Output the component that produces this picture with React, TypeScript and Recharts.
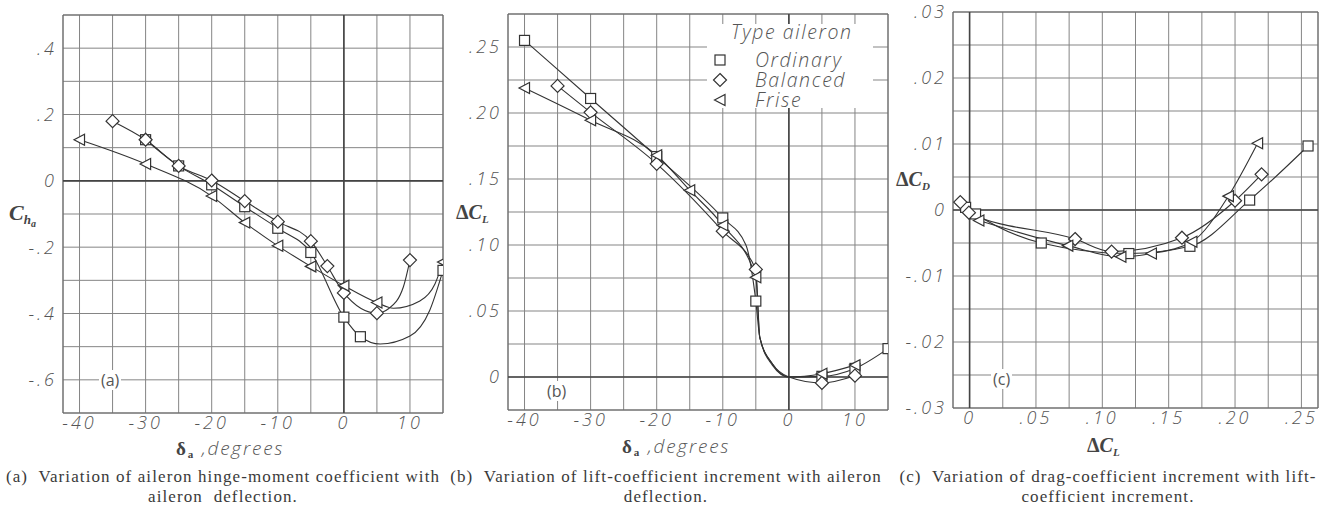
import React from "react";
import {
  LineChart,
  Line,
  XAxis,
  YAxis,
  CartesianGrid,
  ReferenceLine,
  ReferenceArea,
} from "recharts";

// (a) hinge-moment coefficient vs aileron deflection (marked test points)
const aOrdinaryDef = [-30, -25, -20, -15, -10, -5, 0, 2.5, 15];
const aOrdinaryCh = [0.124, 0.045, -0.012, -0.078, -0.143, -0.216, -0.411, -0.47, -0.27];
const aBalancedDef = [-35, -30, -25, -20, -15, -10, -5, -2.5, 0, 5, 10];
const aBalancedCh = [0.18, 0.124, 0.045, 0.001, -0.061, -0.123, -0.182, -0.257, -0.338, -0.399, -0.239];
const aFriseDef = [-40, -30, -20, -15, -10, -5, 0, 5, 15];
const aFriseCh = [0.124, 0.051, -0.046, -0.126, -0.196, -0.258, -0.316, -0.367, -0.245];
// points read off the faired curves between markers (no symbol drawn)
const aOrdinaryFairDef = [5.5, 10, 13];
const aOrdinaryFairCh = [-0.492, -0.468, -0.39];
const aBalancedFairDef = [6.8, 9];
const aBalancedFairCh = [-0.385, -0.32];
const aFriseFairDef = [7.5, 11.5, 13.8];
const aFriseFairCh = [-0.384, -0.362, -0.31];

// (b) lift-coefficient increment vs aileron deflection
const bOrdinaryDef = [-40, -30, -20, -10, -5, 5, 10, 15];
const bOrdinaryCl = [0.255, 0.211, 0.167, 0.1205, 0.0575, 0.0005, 0.0065, 0.0215];
const bBalancedDef = [-35, -30, -20, -10, -5, 5, 10];
const bBalancedCl = [0.2205, 0.2005, 0.1615, 0.1105, 0.0815, -0.0045, 0.001];
const bFriseDef = [-40, -30, -20, -15, -10, -5, 5, 10];
const bFriseCl = [0.219, 0.1945, 0.168, 0.1415, 0.115, 0.0755, 0.0025, 0.009];
const bOrdinaryFairDef = [-6.5, -4.4, -2.5, 0];
const bOrdinaryFairCl = [0.1, 0.03, 0.009, 0];
const bBalancedFairDef = [-4.4, -2.5, 0];
const bBalancedFairCl = [0.03, 0.01, 0];
const bFriseFairDef = [-4.4, -2.5, 0];
const bFriseFairCl = [0.03, 0.01, 0];

// (c) drag-coefficient increment vs lift-coefficient increment
const cOrdinaryCl = [-0.003, 0.0045, 0.054, 0.12, 0.166, 0.211, 0.255];
const cOrdinaryCd = [0.0004, -0.0006, -0.005, -0.0066, -0.0055, 0.0015, 0.0097];
const cBalancedCl = [-0.007, -0.0005, 0.0795, 0.107, 0.16, 0.2, 0.22];
const cBalancedCd = [0.0012, -0.0004, -0.0044, -0.0063, -0.0042, 0.0014, 0.0054];
const cFriseCl = [0.007, 0.074, 0.114, 0.137, 0.1675, 0.195, 0.217];
const cFriseCd = [-0.0016, -0.0054, -0.0071, -0.0066, -0.0048, 0.0021, 0.0101];

// tick labels
const aXTickVals = [-40, -30, -20, -10, 0, 10];
const aXTickText = ["-40", "-30", "-20", "-10", "0", "10"];
const aYTickVals = [0.4, 0.2, 0, -0.2, -0.4, -0.6];
const aYTickText = [".4", ".2", "0", "-.2", "-.4", "-.6"];
const bYTickVals = [0.25, 0.2, 0.15, 0.1, 0.05, 0];
const bYTickText = [".25", ".20", ".15", ".10", ".05", "0"];
const cXTickVals = [0, 0.05, 0.1, 0.15, 0.2, 0.25];
const cXTickText = ["0", ".05", ".10", ".15", ".20", ".25"];
const cYTickVals = [0.03, 0.02, 0.01, 0, -0.01, -0.02, -0.03];
const cYTickText = [".03", ".02", ".01", "0", "-.01", "-.02", "-.03"];

const legendNames = ["Ordinary", "Balanced", "Frise"];

const INK = "#333";
const GRID = "#858585";
const TICK_FONT = "'Open Sans', 'DejaVu Sans', sans-serif";

type Kind = "square" | "diamond" | "triangle";
type Series = { xs: number[]; ys: number[]; fx?: number[]; fy?: number[]; kind: Kind };

function range(a: number, b: number, step: number) {
  const out: number[] = [];
  for (let v = a; v <= b + step / 1000; v += step) out.push(Math.round(v * 10000) / 10000);
  return out;
}

function labelFor(vals: number[], text: string[]) {
  return (v: number) => {
    const i = vals.findIndex((t) => Math.abs(t - v) < 1e-7);
    return i >= 0 ? text[i] : "";
  };
}

function rows(s: Series) {
  const marked = s.xs.map((x, i) => ({ x, y: s.ys[i], fair: false }));
  const faired = (s.fx || []).map((x, i) => ({ x, y: (s.fy || [])[i], fair: true }));
  return [...marked, ...faired].sort((a, b) => a.x - b.x);
}

function Marker({ cx, cy, kind }: { cx: number; cy: number; kind: Kind }) {
  const common = { fill: "#fff", stroke: INK, strokeWidth: 1.2 };
  if (kind === "square") return <rect x={cx - 5} y={cy - 5} width={10} height={10} {...common} />;
  if (kind === "diamond")
    return <polygon points={`${cx},${cy - 6.5} ${cx + 6.5},${cy} ${cx},${cy + 6.5} ${cx - 6.5},${cy}`} {...common} />;
  return <polygon points={`${cx - 5.5},${cy} ${cx + 5},${cy - 5.5} ${cx + 5},${cy + 5.5}`} {...common} />;
}

type PanelProps = {
  left: number;
  width: number;
  height: number;
  margin: { top: number; right: number; bottom: number; left: number };
  xDomain: [number, number];
  yDomain: [number, number];
  xGrid: number[];
  yGrid: number[];
  xFmt: (v: number) => string;
  yFmt: (v: number) => string;
  series: Series[];
};

function Panel(p: PanelProps) {
  const tickStyle = { fontSize: 18, fontStyle: "italic", fill: "#555", fontFamily: TICK_FONT, letterSpacing: 3, fontWeight: 300 };
  return (
    <div style={{ position: "absolute", left: p.left, top: 0 }}>
      <LineChart width={p.width} height={p.height} margin={p.margin}>
        <CartesianGrid stroke={GRID} strokeWidth={1} />
        <XAxis
          type="number"
          dataKey="x"
          domain={p.xDomain}
          ticks={p.xGrid}
          interval={0}
          allowDataOverflow
          tickFormatter={p.xFmt}
          tickLine={false}
          axisLine={false}
          tickSize={0}
          tickMargin={3}
          height={20}
          tick={tickStyle}
        />
        <YAxis
          type="number"
          domain={p.yDomain}
          ticks={p.yGrid}
          interval={0}
          allowDataOverflow
          tickFormatter={p.yFmt}
          tickLine={false}
          axisLine={false}
          tickSize={0}
          tickMargin={6}
          width={50}
          tick={tickStyle}
        />
        <ReferenceArea
          x1={p.xDomain[0]}
          x2={p.xDomain[1]}
          y1={p.yDomain[0]}
          y2={p.yDomain[1]}
          fill="none"
          fillOpacity={0}
          stroke="#666"
          strokeOpacity={1}
        />
        <ReferenceLine x={0} stroke="#444" strokeWidth={1.6} />
        <ReferenceLine y={0} stroke="#444" strokeWidth={1.6} />
        {p.series.map((s, si) => (
          <Line
            key={si}
            data={rows(s)}
            dataKey="y"
            type="monotone"
            stroke={INK}
            strokeWidth={1.1}
            isAnimationActive={false}
            activeDot={false}
            dot={(d: any) =>
              d.payload && d.payload.fair ? (
                <g key={`d${si}-${d.index}`} />
              ) : (
                <Marker key={`d${si}-${d.index}`} cx={d.cx} cy={d.cy} kind={s.kind} />
              )
            }
          />
        ))}
      </LineChart>
    </div>
  );
}

const abs = (l: number, t: number): React.CSSProperties => ({ position: "absolute", left: l, top: t, whiteSpace: "nowrap" });
const italicSans: React.CSSProperties = { fontFamily: TICK_FONT, fontStyle: "italic", fontWeight: 300, color: "#555" };
const symbolSerif: React.CSSProperties = { fontFamily: "'Liberation Serif', serif", fontStyle: "italic", fontWeight: 700, color: "#444" };
const plainTag: React.CSSProperties = { fontFamily: "'Open Sans', sans-serif", fontSize: 16, color: "#555", background: "#fff", padding: "0 2px", lineHeight: "20px" };

function LegendMark({ kind, x, y }: { kind: Kind; x: number; y: number }) {
  return (
    <svg style={{ position: "absolute", left: x - 8, top: y - 8 }} width={16} height={16}>
      <Marker cx={8} cy={8} kind={kind} />
    </svg>
  );
}

function DegLabel({ left, top }: { left: number; top: number }) {
  return (
    <div style={{ ...abs(left, top), ...italicSans, fontSize: 19, letterSpacing: 1.8, lineHeight: "22px" }}>
      <span style={{ ...symbolSerif, fontStyle: "normal", fontSize: 19 }}>δ</span>
      <span style={{ ...symbolSerif, fontStyle: "normal", fontSize: 11, position: "relative", top: 3 }}>a</span>
      {"  ,degrees"}
    </div>
  );
}

function DeltaC({ left, top, sub }: { left: number; top: number; sub: string }) {
  return (
    <div style={{ ...abs(left, top), ...symbolSerif, fontSize: 20, lineHeight: "24px" }}>
      <span style={{ fontStyle: "normal" }}>Δ</span>C
      <span style={{ fontSize: 11, position: "relative", top: 4 }}>{sub}</span>
    </div>
  );
}

export default function App() {
  const aSeries: Series[] = [
    { xs: aOrdinaryDef, ys: aOrdinaryCh, fx: aOrdinaryFairDef, fy: aOrdinaryFairCh, kind: "square" },
    { xs: aBalancedDef, ys: aBalancedCh, fx: aBalancedFairDef, fy: aBalancedFairCh, kind: "diamond" },
    { xs: aFriseDef, ys: aFriseCh, fx: aFriseFairDef, fy: aFriseFairCh, kind: "triangle" },
  ];
  const bSeries: Series[] = [
    { xs: bOrdinaryDef, ys: bOrdinaryCl, fx: bOrdinaryFairDef, fy: bOrdinaryFairCl, kind: "square" },
    { xs: bBalancedDef, ys: bBalancedCl, fx: bBalancedFairDef, fy: bBalancedFairCl, kind: "diamond" },
    { xs: bFriseDef, ys: bFriseCl, fx: bFriseFairDef, fy: bFriseFairCl, kind: "triangle" },
  ];
  const cSeries: Series[] = [
    { xs: cOrdinaryCl, ys: cOrdinaryCd, kind: "square" },
    { xs: cBalancedCl, ys: cBalancedCd, kind: "diamond" },
    { xs: cFriseCl, ys: cFriseCd, kind: "triangle" },
  ];
  const degGrid = range(-40, 15, 5);
  const kinds: Kind[] = ["square", "diamond", "triangle"];

  return (
    <div style={{ position: "absolute", left: 0, top: 0, width: 1330, height: 509, background: "#fff", overflow: "hidden" }}>
      <Panel
        left={0}
        width={450}
        height={440}
        margin={{ top: 15, right: 7, bottom: 7, left: 13 }}
        xDomain={[-42.5, 15]}
        yDomain={[-0.7, 0.5]}
        xGrid={degGrid}
        yGrid={range(-0.7, 0.5, 0.1)}
        xFmt={labelFor(aXTickVals, aXTickText)}
        yFmt={labelFor(aYTickVals, aYTickText)}
        series={aSeries}
      />
      <Panel
        left={450}
        width={445}
        height={440}
        margin={{ top: 14, right: 7, bottom: 10, left: 8 }}
        xDomain={[-42.5, 15]}
        yDomain={[-0.025, 0.275]}
        xGrid={degGrid}
        yGrid={range(-0.025, 0.275, 0.025)}
        xFmt={labelFor(aXTickVals, aXTickText)}
        yFmt={labelFor(bYTickVals, bYTickText)}
        series={bSeries}
      />
      <Panel
        left={895}
        width={435}
        height={440}
        margin={{ top: 12, right: 12, bottom: 12, left: 8 }}
        xDomain={[-0.0125, 0.2625]}
        yDomain={[-0.03, 0.03]}
        xGrid={range(0, 0.25, 0.025)}
        yGrid={range(-0.03, 0.03, 0.005)}
        xFmt={labelFor(cXTickVals, cXTickText)}
        yFmt={labelFor(cYTickVals, cYTickText)}
        series={cSeries}
      />

      {/* axis titles */}
      <div style={{ ...abs(9, 200), ...symbolSerif, fontSize: 22, lineHeight: "26px" }}>
        C<span style={{ fontSize: 13, position: "relative", top: 4 }}>h</span>
        <span style={{ fontSize: 10, position: "relative", top: 7 }}>a</span>
      </div>
      <DeltaC left={456} top={200} sub="L" />
      <DeltaC left={896} top={167} sub="D" />
      <DeltaC left={1087} top={433} sub="L" />
      <DegLabel left={176} top={436.5} />
      <DegLabel left={622} top={434.5} />

      {/* panel tags */}
      <div style={{ ...abs(99, 370), ...plainTag }}>(a)</div>
      <div style={{ ...abs(545, 381), ...plainTag }}>(b)</div>
      <div style={{ ...abs(991, 369), ...plainTag }}>(c)</div>

      {/* legend: cleared patch of grid, symbols and names */}
      <div style={{ position: "absolute", left: 707, top: 24, width: 166, height: 84, background: "#fff" }} />
      <div style={{ ...abs(731, 22), ...italicSans, fontSize: 19.5, letterSpacing: 1.6, lineHeight: "20px" }}>
        Type aileron
      </div>
      {kinds.map((k, i) => (
        <LegendMark key={k} kind={k} x={720} y={59.5 + i * 20} />
      ))}
      <div style={{ ...abs(755, 49.5), ...italicSans, fontSize: 19.5, letterSpacing: 1.6, lineHeight: "20px", whiteSpace: "pre" }}>
        {legendNames.join("\n")}
      </div>

      {/* captions */}
      {[
        { l: 0, w: 446, a: "(a)  Variation of aileron hinge-moment coefficient with", b: "aileron  deflection." },
        { l: 446, w: 440, a: "(b)  Variation of lift-coefficient increment with aileron", b: "deflection." },
        { l: 886, w: 444, a: "(c)  Variation of drag-coefficient increment with lift-", b: "coefficient increment." },
      ].map((c) => (
        <div
          key={c.l}
          style={{
            position: "absolute",
            left: c.l,
            top: 467,
            width: c.w,
            textAlign: "center",
            fontFamily: "'Liberation Serif', serif",
            fontSize: 17,
            letterSpacing: 1.1,
            lineHeight: "20px",
            color: "#3a3a3a",
            whiteSpace: "pre",
          }}
        >
          {c.a}
          {"\n"}
          {c.b}
        </div>
      ))}
    </div>
  );
}
